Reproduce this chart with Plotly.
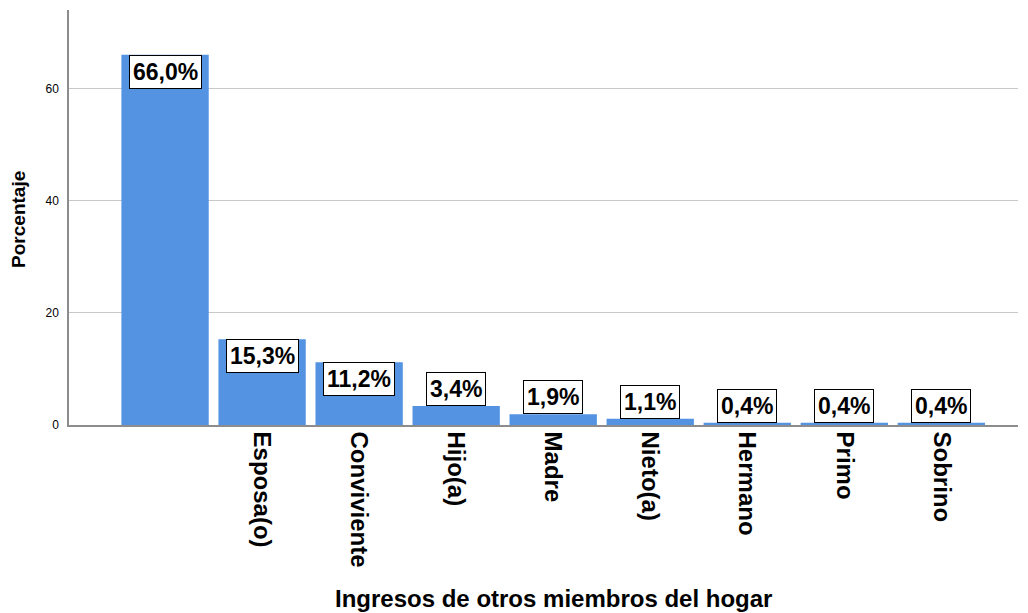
import plotly.graph_objects as go

# Datos
categorias = ["", "Esposa(o)", "Conviviente", "Hijo(a)", "Madre", "Nieto(a)",
              "Hermano", "Primo", "Sobrino"]
porcentajes = [66.0, 15.3, 11.2, 3.4, 1.9, 1.1, 0.4, 0.4, 0.4]
etiquetas = ["66,0%", "15,3%", "11,2%", "3,4%", "1,9%", "1,1%", "0,4%", "0,4%", "0,4%"]
y_ticks = [0, 20, 40, 60]

FUENTE = "Arial, Liberation Sans, sans-serif"
x_pos = list(range(len(categorias)))

fig = go.Figure()
fig.add_trace(go.Bar(
    x=x_pos,
    y=porcentajes,
    width=0.9,
    marker=dict(color="rgb(83,147,226)", line=dict(width=0)),
    hoverinfo="skip",
))

# Etiquetas de valor con recuadro
for xi, v, txt in zip(x_pos, porcentajes, etiquetas):
    fig.add_annotation(
        x=xi, y=v, xref="x", yref="y",
        text="<b>%s</b>" % txt,
        showarrow=False,
        yanchor="top" if v > 6 else "bottom",
        font=dict(family=FUENTE, size=23, color="black"),
        bgcolor="white", bordercolor="black", borderwidth=1, borderpad=3,
    )

# Títulos de ejes
fig.add_annotation(
    text="<b>Ingresos de otros miembros del hogar</b>",
    xref="paper", yref="paper", x=0.511, y=-0.417,
    xanchor="center", yanchor="middle",
    showarrow=False, font=dict(family=FUENTE, size=24, color="black"),
)
fig.add_annotation(
    text="<b>Porcentaje</b>",
    xref="paper", yref="paper", x=-0.054, y=0.496, textangle=-90,
    xanchor="center", yanchor="middle",
    showarrow=False, font=dict(family=FUENTE, size=19, color="black"),
)

fig.update_layout(
    width=1028, height=613,
    margin=dict(l=61, r=18, t=2, b=196),
    plot_bgcolor="white", paper_bgcolor="white",
    showlegend=False,
    bargap=0.1,
)
fig.update_xaxes(
    range=[-0.99, 8.79],
    tickvals=x_pos, ticktext=["<b>%s</b>" % c if c else "" for c in categorias],
    tickangle=90,
    tickfont=dict(family=FUENTE, size=24, color="black"),
    showline=True, linecolor="#8c8c8c", linewidth=1.5,
    showgrid=False, zeroline=False, ticks="",
)
fig.update_yaxes(
    range=[0, 74],
    tickvals=y_ticks,
    tickfont=dict(family=FUENTE, size=12, color="black"),
    ticklabelstandoff=6,
    showline=True, linecolor="#8c8c8c", linewidth=1.5,
    showgrid=True, gridcolor="#c8c8c8", gridwidth=1,
    zeroline=False, ticks="",
)

fig.write_html("out.html")
